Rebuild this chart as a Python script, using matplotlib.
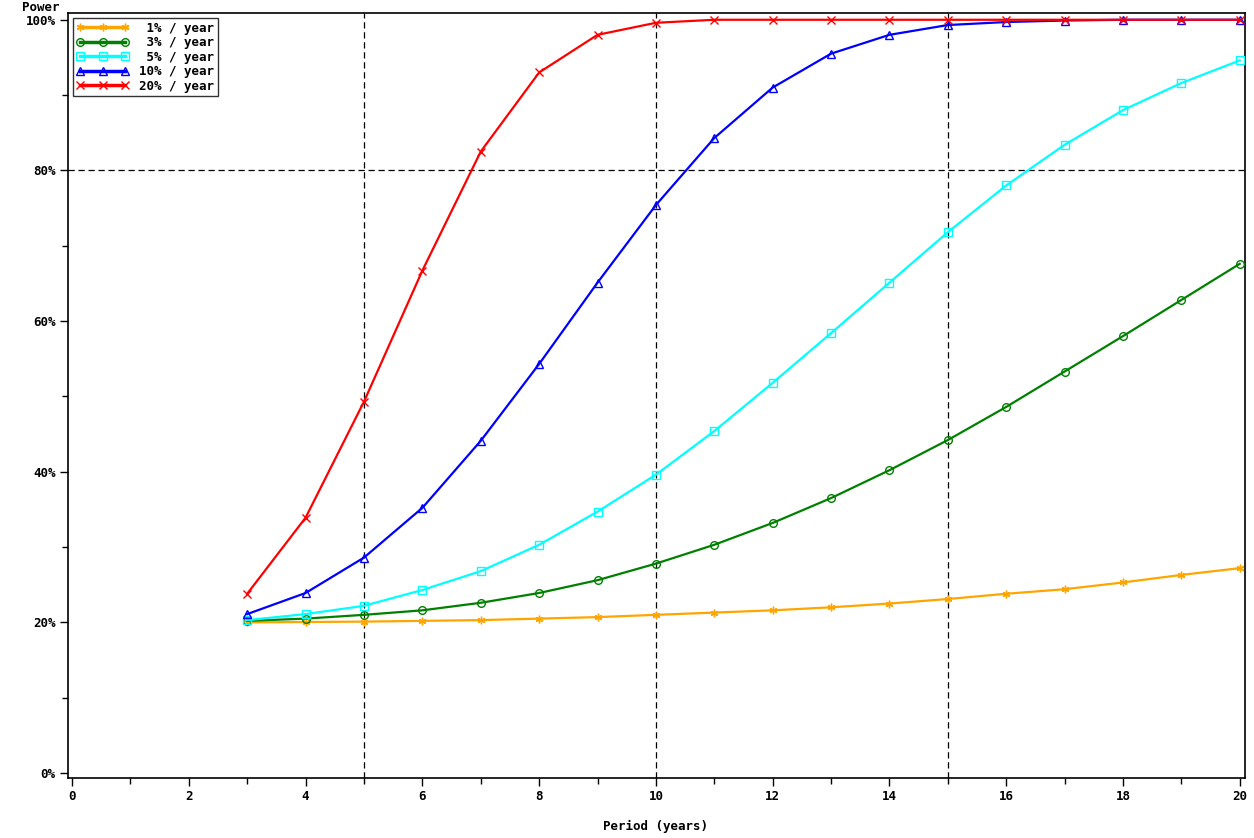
import numpy as np
import matplotlib.pyplot as plt
from matplotlib.ticker import FuncFormatter, MultipleLocator

plt.rcParams['font.family'] = 'DejaVu Sans Mono'
plt.rcParams['font.weight'] = 'bold'

# --- DATA ---
periods = np.arange(3, 21)
power_1 = [20.0, 20.05, 20.1, 20.2, 20.3, 20.5, 20.7, 21.0, 21.3, 21.6,
           22.0, 22.5, 23.1, 23.8, 24.4, 25.3, 26.3, 27.2]
power_3 = [20.2, 20.5, 21.0, 21.6, 22.6, 23.9, 25.6, 27.8, 30.3, 33.2,
           36.5, 40.2, 44.2, 48.6, 53.3, 58.0, 62.8, 67.6]
power_5 = [20.3, 21.1, 22.2, 24.3, 26.8, 30.3, 34.7, 39.6, 45.4, 51.8,
           58.4, 65.1, 71.8, 78.0, 83.4, 88.0, 91.6, 94.6]
power_10 = [21.1, 23.9, 28.6, 35.2, 44.1, 54.3, 65.1, 75.4, 84.3, 91.0,
            95.5, 98.0, 99.3, 99.7, 99.9, 100.0, 100.0, 100.0]
power_20 = [23.8, 33.9, 49.3, 66.7, 82.5, 93.0, 98.0, 99.6, 100.0, 100.0,
            100.0, 100.0, 100.0, 100.0, 100.0, 100.0, 100.0, 100.0]

series = [
    (' 1% / year', power_1, '#FFA500', (6, 2, 0)),
    (' 3% / year', power_3, '#008000', 'o'),
    (' 5% / year', power_5, '#00FFFF', 's'),
    ('10% / year', power_10, '#0000FF', '^'),
    ('20% / year', power_20, '#FF0000', 'x'),
]

fig = plt.figure(figsize=(12.54, 8.38), dpi=100)
ax = fig.add_axes([0.0542, 0.0716, 0.9386, 0.9129])

# reference lines
for xv in [5, 10, 15]:
    ax.axvline(xv, color='black', linestyle=(0, (5, 3)), linewidth=0.9, zorder=1)
ax.axhline(80, color='black', linestyle=(0, (5, 3)), linewidth=0.9, zorder=1)

for label, vals, col, mk in series:
    ax.plot(periods, vals, color=col, linewidth=1.6, marker=mk, markersize=5.5,
            markerfacecolor='none', markeredgecolor=col, markeredgewidth=1.0,
            label=label, zorder=3)

ax.set_xlim(-0.07, 20.09)
ax.set_ylim(-0.66, 100.9)
ax.xaxis.set_major_locator(MultipleLocator(2))
ax.xaxis.set_minor_locator(MultipleLocator(1))
ax.yaxis.set_major_locator(MultipleLocator(20))
ax.yaxis.set_minor_locator(MultipleLocator(10))
ax.yaxis.set_major_formatter(FuncFormatter(lambda v, p: f"{v:.0f}%"))

ax.tick_params(which='major', direction='out', length=6, width=1, labelsize=9, pad=3)
ax.tick_params(which='minor', direction='out', length=4, width=1)
for sp in ax.spines.values():
    sp.set_linewidth(1.2)

fig.text(0.0175, 0.983, 'Power', fontsize=9, fontweight='bold', ha='left', va='bottom')
fig.text(0.523, 0.006, 'Period (years)', fontsize=9, fontweight='bold', ha='center', va='bottom')

leg = ax.legend(loc='upper left', numpoints=3, fontsize=9, frameon=True,
                fancybox=False, edgecolor='black', handlelength=4.2,
                borderaxespad=0.4, labelspacing=0.12, borderpad=0.3,
                handletextpad=0.8)
leg.get_frame().set_linewidth(1.0)
for line in leg.get_lines():
    line.set_linewidth(2.5)
for t in leg.get_texts():
    t.set_fontweight('bold')

fig.savefig('out.png', dpi=100)
